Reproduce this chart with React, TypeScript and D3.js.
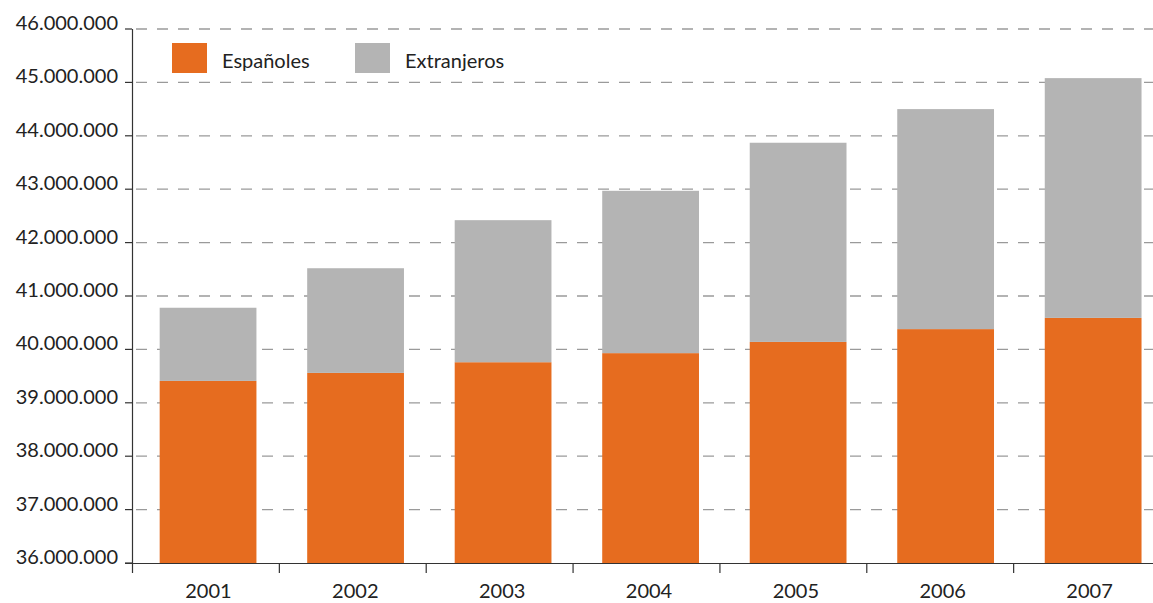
import React from "react";
import * as d3 from "d3";

const years = ["2001", "2002", "2003", "2004", "2005", "2006", "2007"];
const espanoles = [39410000, 39560000, 39760000, 39930000, 40140000, 40380000, 40590000];
const extranjeros = [1370000, 1960000, 2660000, 3040000, 3730000, 4120000, 4490000];
const yTicks = [36000000, 37000000, 38000000, 39000000, 40000000, 41000000, 42000000, 43000000, 44000000, 45000000, 46000000];
const seriesNames = ["Españoles", "Extranjeros"];
const colors = ["#E66C1F", "#B4B4B4"];

const W = 1153;
const H = 603;
const FONT = "Lato, 'Open Sans', sans-serif";

export default function App() {
  const y = d3.scaleLinear().domain([36000000, 46000000]).range([563, 29]);
  const xAxis = d3.scaleBand().domain(years).range([132, 1160]);
  const xBar = d3
    .scaleBand()
    .domain(years)
    .range([134.3, 1166.9])
    .paddingInner(0.344)
    .paddingOuter(0.172);
  const fmt = (v: number) => d3.format(",")(v).replace(/,/g, ".");

  const stacked = years.map((yr, i) => ({
    yr,
    segs: [
      { base: 36000000, top: espanoles[i], c: colors[0] },
      { base: espanoles[i], top: espanoles[i] + extranjeros[i], c: colors[1] },
    ],
  }));

  return (
    <svg
      width={W}
      height={H}
      style={{ position: "absolute", left: 0, top: 0, background: "#fff" }}
      fontFamily={FONT}
    >
      {yTicks.map((t) =>
        t === 36000000 ? null : (
          <line
            key={"g" + t}
            x1={132}
            x2={W}
            y1={y(t)}
            y2={y(t)}
            stroke="#9a9a9a"
            strokeWidth={1.3}
            strokeDasharray="11,10"
            strokeDashoffset={-4}
          />
        )
      )}
      {stacked.map((d) =>
        d.segs.map((s, j) => (
          <rect
            key={d.yr + j}
            x={xBar(d.yr)}
            width={xBar.bandwidth()}
            y={y(s.top)}
            height={y(s.base) - y(s.top)}
            fill={s.c}
          />
        ))
      )}
      <line x1={132.5} x2={132.5} y1={29} y2={573} stroke="#333" strokeWidth={1.2} />
      {yTicks.map((t) => (
        <g key={"t" + t}>
          <line x1={125} x2={132} y1={y(t)} y2={y(t)} stroke="#333" strokeWidth={1.2} />
          <text x={118} y={y(t) + 1} textAnchor="end" fontSize={20} fill="#222">
            {fmt(t)}
          </text>
        </g>
      ))}
      <line x1={125} x2={W} y1={563.5} y2={563.5} stroke="#333" strokeWidth={1.2} />
      {years.map((yr) => (
        <g key={"x" + yr}>
          {yr !== years[0] && (
            <line
              x1={(xAxis(yr) as number) + 0.5}
              x2={(xAxis(yr) as number) + 0.5}
              y1={563}
              y2={573}
              stroke="#333"
              strokeWidth={1.2}
            />
          )}
          <text
            x={(xAxis(yr) as number) + xAxis.bandwidth() / 2 + 3}
            y={598}
            textAnchor="middle"
            fontSize={20}
            fill="#222"
          >
            {yr}
          </text>
        </g>
      ))}
      {seriesNames.map((n, i) => (
        <g key={n} transform={`translate(${172 + i * 183},43)`}>
          <rect width={35} height={30} fill={colors[i]} />
          <text x={50} y={24.5} fontSize={20} fill="#222">
            {n}
          </text>
        </g>
      ))}
    </svg>
  );
}
